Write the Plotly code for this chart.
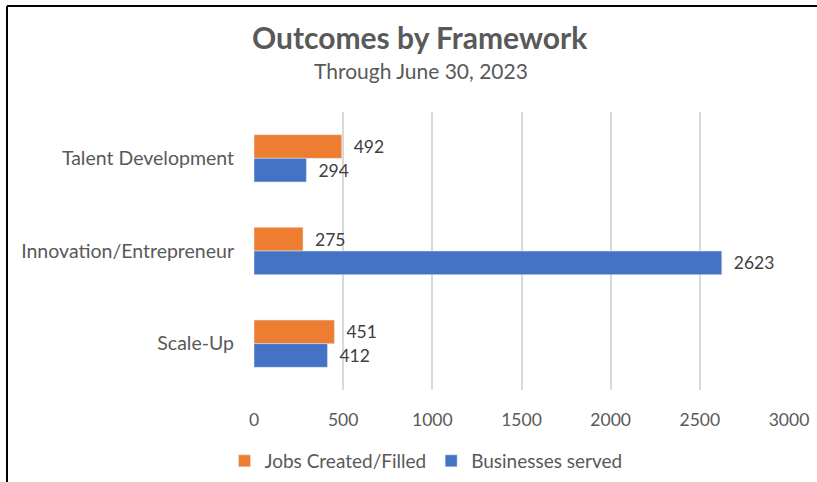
import plotly.graph_objects as go

categories = ["Talent Development", "Innovation/Entrepreneur", "Scale-Up"]
jobs = [492, 275, 451]
businesses = [294, 2623, 412]
series_names = ["Jobs Created/Filled", "Businesses served"]
x_ticks = [0, 500, 1000, 1500, 2000, 2500, 3000]

ORANGE = "#ED7D31"
BLUE = "#4472C4"
TEXT = "#595959"
FONT = "Lato"

fig = go.Figure()
fig.add_trace(go.Bar(
    y=categories, x=jobs, name=series_names[0], orientation="h",
    marker=dict(color=ORANGE), text=jobs, texttemplate="  %{x}",
    textposition="outside", textfont=dict(size=17.5, color="#404040", family=FONT),
    cliponaxis=False,
))
fig.add_trace(go.Bar(
    y=categories, x=businesses, name=series_names[1], orientation="h",
    marker=dict(color=BLUE), text=businesses, texttemplate="  %{x}",
    textposition="outside", textfont=dict(size=17.5, color="#404040", family=FONT),
    cliponaxis=False,
))

L, R, T, B = 254, 28, 112, 92
W, H = 817, 482
pw = W - L - R
ph = H - T - B

def px_x(p):
    return (p - L) / pw

def px_y(p):
    return (H - B - p) / ph

fig.update_layout(
    width=W, height=H,
    margin=dict(l=L, r=R, t=T, b=B, pad=0, autoexpand=False),
    paper_bgcolor="white", plot_bgcolor="white",
    barmode="group", bargap=0.49, bargroupgap=0,
    font=dict(family=FONT, color=TEXT, size=16),
    showlegend=True,
    legend=dict(orientation="h", x=px_x(426), y=px_y(461), xanchor="center", yanchor="middle",
                font=dict(size=19, color=TEXT, family=FONT), itemwidth=30,
                traceorder="normal"),
    xaxis=dict(range=[0, 3000], tickvals=x_ticks, showgrid=True, gridcolor="#D9D9D9",
               gridwidth=1.5, zeroline=False, showline=False, ticks="",
               tickfont=dict(size=17.5, color=TEXT, family=FONT), ticklabelstandoff=17,
               automargin=False),
    yaxis=dict(autorange="reversed", showgrid=False, showline=False, ticks="",
               tickfont=dict(size=19.5, color=TEXT, family=FONT), ticklabelstandoff=19,
               automargin=False),
    annotations=[
        dict(text="<b>Outcomes by Framework</b>", x=px_x(420), y=px_y(37), xref="paper", yref="paper",
             xanchor="center", yanchor="middle", showarrow=False,
             font=dict(size=30, color=TEXT, family=FONT)),
        dict(text="Through June 30, 2023", x=px_x(421), y=px_y(70), xref="paper", yref="paper",
             xanchor="center", yanchor="middle", showarrow=False,
             font=dict(size=21, color=TEXT, family=FONT)),
    ],
    shapes=[
        dict(type="line", xref="paper", yref="paper", x0=px_x(7), x1=px_x(830), y0=px_y(6), y1=px_y(6),
             line=dict(color="black", width=2)),
        dict(type="line", xref="paper", yref="paper", x0=px_x(7), x1=px_x(7), y0=px_y(6), y1=px_y(490),
             line=dict(color="black", width=2)),
    ],
)

fig.write_html("out.html", config={"displayModeBar": False},
               post_script="document.body.style.margin='0';document.body.style.overflow='hidden';")
